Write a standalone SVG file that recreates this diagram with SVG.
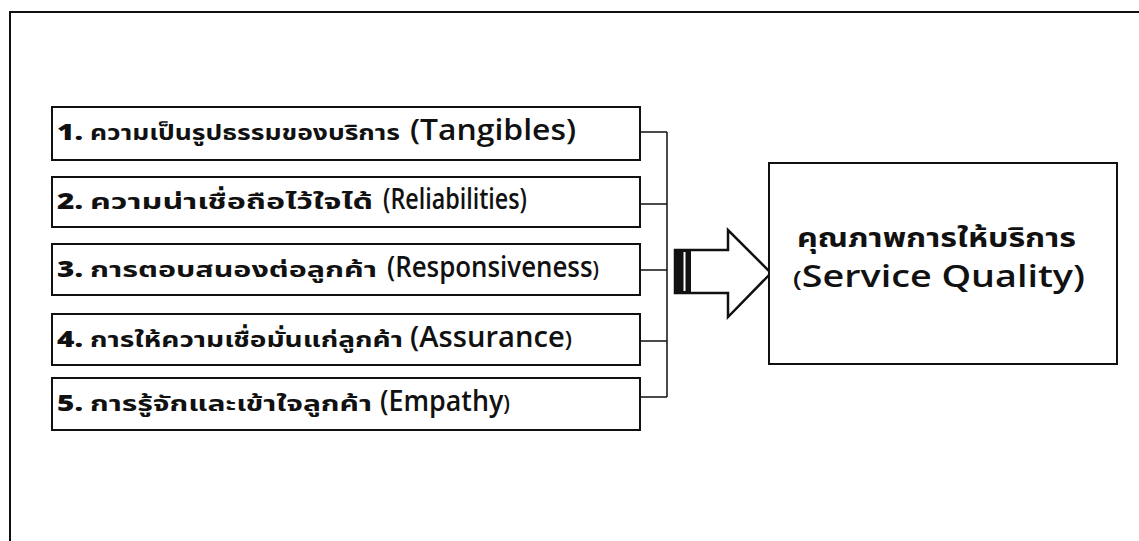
<svg xmlns="http://www.w3.org/2000/svg" width="1139" height="541" viewBox="0 0 1139 541">
<style>
.frame{fill:none;stroke:#111;stroke-width:2}
.box{fill:#fff;stroke:#111;stroke-width:2}
.th{font-family:"Noto Sans Thai","Noto Sans Thai UI","Loma","Garuda","Tahoma","Noto Sans",sans-serif;font-weight:700;font-size:22px;fill:#111}
.thb{font-family:"Noto Sans Thai","Noto Sans Thai UI","Loma","Garuda","Tahoma","Noto Sans",sans-serif;font-weight:700;font-size:26px;fill:#111}
.num{font-family:"Open Sans","Noto Sans",sans-serif;font-weight:800;font-size:22px;fill:#111}
.en{font-family:"Open Sans","Noto Sans",sans-serif;font-weight:600;font-size:28px;fill:#111}
.enb{font-family:"Open Sans","Noto Sans",sans-serif;font-weight:600;font-size:30px;fill:#111}
.sm{font-size:22px}
.conn{stroke:#111;stroke-width:1.5;fill:none}
</style>
<rect class="frame" x="10" y="12" width="1140" height="540"/>

<g id="connectors">
  <path class="conn" d="M640,132 H667 M640,204 H667 M640,270 H667 M640,341 H667 M640,397 H667 M667,132 V397"/>
  <path d="M675,250 H728 V230 L771,273 L728,317 V293 H675 Z" fill="#fff" stroke="#111" stroke-width="2.5" stroke-linejoin="miter"/>
  <rect x="675" y="250" width="16" height="43" fill="#111"/>
  <rect x="683.5" y="252" width="2" height="39" fill="#fff"/>
</g>

<g id="node1">
  <rect class="box" x="52" y="107" width="588" height="53"/>
  <text class="num" x="57" y="140" textLength="26" lengthAdjust="spacingAndGlyphs">1.</text>
  <text class="th" x="90" y="140" textLength="310" lengthAdjust="spacingAndGlyphs">ความเป็นรูปธรรมของบริการ</text>
  <text class="en" x="410" y="140" textLength="166" lengthAdjust="spacingAndGlyphs">(Tangibles)</text>
</g>
<g id="node2">
  <rect class="box" x="52" y="177" width="588" height="50"/>
  <text class="num" x="57" y="209" textLength="26" lengthAdjust="spacingAndGlyphs">2.</text>
  <text class="th" x="90" y="209" textLength="283" lengthAdjust="spacingAndGlyphs">ความน่าเชื่อถือไว้ใจได้</text>
  <text class="en" x="383" y="209" textLength="144" lengthAdjust="spacingAndGlyphs">(Reliabilities)</text>
</g>
<g id="node3">
  <rect class="box" x="52" y="244" width="588" height="51"/>
  <text class="num" x="57" y="277" textLength="26" lengthAdjust="spacingAndGlyphs">3.</text>
  <text class="th" x="90" y="277" textLength="287" lengthAdjust="spacingAndGlyphs">การตอบสนองต่อลูกค้า</text>
  <text class="en" x="387" y="277" textLength="212" lengthAdjust="spacingAndGlyphs">(Responsiveness<tspan class="sm">)</tspan></text>
</g>
<g id="node4">
  <rect class="box" x="52" y="314" width="588" height="51"/>
  <text class="num" x="57" y="347" textLength="26" lengthAdjust="spacingAndGlyphs">4.</text>
  <text class="th" x="90" y="347" textLength="313" lengthAdjust="spacingAndGlyphs">การให้ความเชื่อมั่นแก่ลูกค้า</text>
  <text class="en" x="410" y="347" textLength="162" lengthAdjust="spacingAndGlyphs">(Assurance<tspan class="sm">)</tspan></text>
</g>
<g id="node5">
  <rect class="box" x="52" y="378" width="588" height="52"/>
  <text class="num" x="57" y="411" textLength="26" lengthAdjust="spacingAndGlyphs">5.</text>
  <text class="th" x="90" y="411" textLength="282" lengthAdjust="spacingAndGlyphs">การรู้จักและเข้าใจลูกค้า</text>
  <text class="en" x="380" y="411" textLength="130" lengthAdjust="spacingAndGlyphs">(Empathy<tspan class="sm">)</tspan></text>
</g>

<g id="service-quality">
  <rect class="box" x="769" y="163" width="348" height="201"/>
  <text class="thb" x="797" y="247" textLength="279" lengthAdjust="spacingAndGlyphs">คุณภาพการให้บริการ</text>
  <text class="enb" x="793" y="287" textLength="292" lengthAdjust="spacingAndGlyphs"><tspan class="sm">(</tspan>Service  Quality)</text>
</g>
</svg>
